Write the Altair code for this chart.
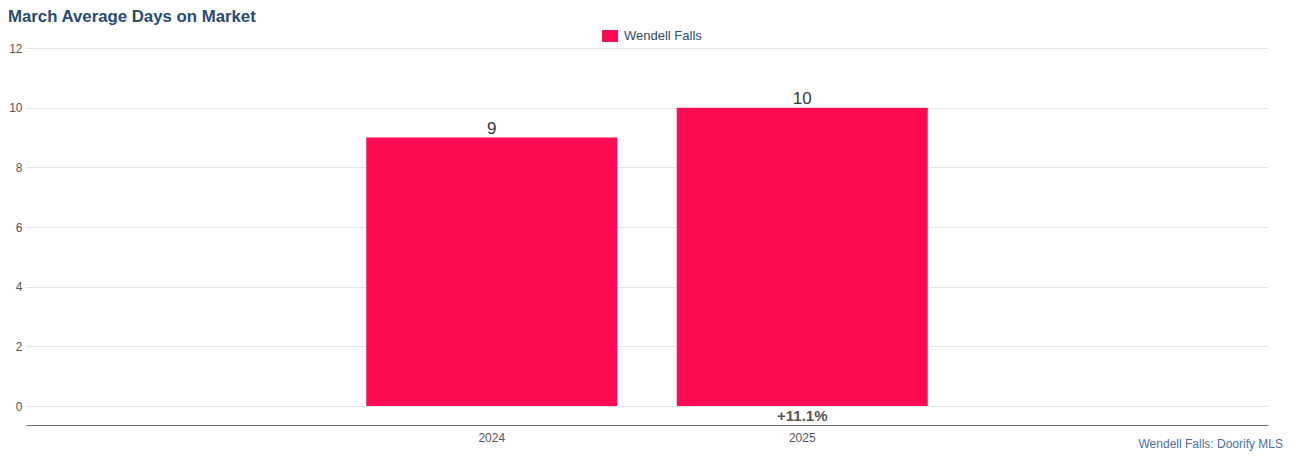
import altair as alt
import pandas as pd

# ---- data ----
categories = ["_pre", "2024", "2025", "_post"]
years = ["2024", "2025"]
days = [9, 10]
change_labels = ["", "+11.1%"]
series_name = "Wendell Falls"
credit = "Wendell Falls: Doorify MLS"
title_text = "March Average Days on Market"

BAR = "#ff0a54"
FONT = "Liberation Sans"

df = pd.DataFrame({"year": years, "days": days, "change": change_labels,
                   "series": [series_name] * len(years)})
credit_df = pd.DataFrame({"t": [credit]})
title_df = pd.DataFrame({"t": [title_text]})

x_enc = alt.X("year:N", scale=alt.Scale(domain=categories, paddingInner=0.19, paddingOuter=0.095),
              axis=alt.Axis(title=None, labelExpr="indexof(datum.value, '_') == 0 ? '' : datum.value",
                            labelAngle=0, labelColor="#555555", labelFontSize=12, labelFont=FONT,
                            ticks=False, domainColor="#6b6b6b", domainWidth=1, offset=19,
                            labelPadding=7, grid=False))
y_scale = alt.Scale(domain=[0, 12], nice=False, zero=True)

bars = alt.Chart(df).mark_bar(size=251).encode(
    x=x_enc,
    y=alt.Y("days:Q", scale=y_scale,
            axis=alt.Axis(title=None, values=[0, 2, 4, 6, 8, 10, 12], grid=True,
                          gridColor="#e3e3e3", gridWidth=1, ticks=False, domain=False,
                          labelColor="#555555", labelFontSize=12, labelFont=FONT,
                          labelPadding=4)),
    color=alt.Color("series:N", scale=alt.Scale(domain=[series_name], range=[BAR]),
                    legend=alt.Legend(title=None, orient="none", legendX=576, legendY=-20,
                                      direction="horizontal",
                                      symbolType="M-1,-0.75H1V0.75H-1Z", symbolSize=256,
                                      symbolStrokeWidth=0, symbolOpacity=1,
                                      labelColor="#2f4b70", labelFontSize=13, labelFont=FONT,
                                      labelOffset=6, padding=0)),
)

value_text = alt.Chart(df).mark_text(fontSize=17, color="#3a3a3a", dy=-9, font=FONT).encode(
    x=alt.X("year:N", scale=alt.Scale(domain=categories)),
    y=alt.Y("days:Q", scale=y_scale),
    text="days:Q",
)

change_text = alt.Chart(df).mark_text(fontSize=15, fontWeight="bold", color="#555555",
                                      font=FONT, baseline="middle").encode(
    x=alt.X("year:N", scale=alt.Scale(domain=categories)),
    y=alt.value(368),
    text="change:N",
)

credit_text = alt.Chart(credit_df).mark_text(fontSize=12, color="#4a6fa5", align="right",
                                             baseline="middle", font=FONT).encode(
    x=alt.value(1257), y=alt.value(396), text="t:N")

title_mark = alt.Chart(title_df).mark_text(fontSize=16.8, fontWeight="bold", color="#274b74",
                                           align="left", baseline="middle", font=FONT).encode(
    x=alt.value(-18), y=alt.value(-31), text="t:N")

chart = alt.layer(bars, value_text, change_text, credit_text, title_mark).properties(
    width=1242, height=358,
    autosize=alt.AutoSizeParams(type="none"),
    padding={"left": 18, "top": 40, "right": 16, "bottom": 48},
    background="white",
).configure_view(stroke=None)

chart.save("out.html", embed_options={"renderer": "svg", "actions": False})
